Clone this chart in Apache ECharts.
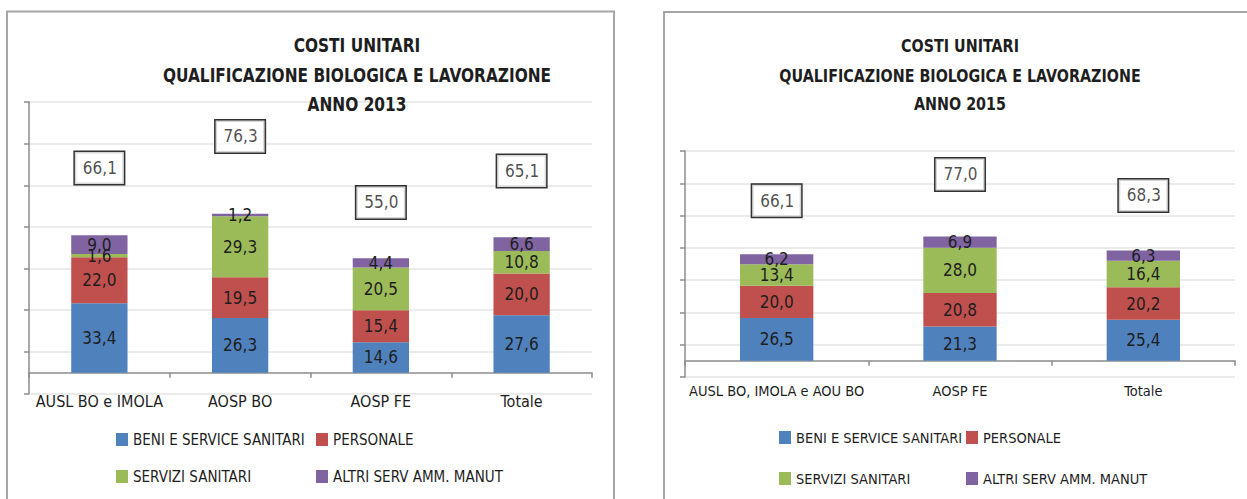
<!DOCTYPE html>
<html>
<head>
<meta charset="utf-8">
<script src="https://cdn.jsdelivr.net/npm/echarts@6/dist/echarts.min.js"></script>
<style>
html,body{margin:0;padding:0;background:#fff;}
#c{width:1247px;height:499px;}
</style>
</head>
<body>
<div id="c"></div>
<script>
// ---- DATA ----
var seriesNames = ['BENI E SERVICE SANITARI', 'PERSONALE', 'SERVIZI SANITARI', 'ALTRI SERV AMM. MANUT'];
var titleLines2013 = ['COSTI UNITARI', 'QUALIFICAZIONE BIOLOGICA E LAVORAZIONE', 'ANNO 2013'];
var titleLines2015 = ['COSTI UNITARI', 'QUALIFICAZIONE BIOLOGICA E LAVORAZIONE', 'ANNO 2015'];

var categories2013 = ['AUSL BO e IMOLA', 'AOSP BO', 'AOSP FE', 'Totale'];
var beni2013 = [33.4, 26.3, 14.6, 27.6];
var personale2013 = [22.0, 19.5, 15.4, 20.0];
var servizi2013 = [1.6, 29.3, 20.5, 10.8];
var altri2013 = [9.0, 1.2, 4.4, 6.6];
var totali2013 = [66.1, 76.3, 55.0, 65.1];

var categories2015 = ['AUSL BO, IMOLA e AOU BO', 'AOSP FE', 'Totale'];
var beni2015 = [26.5, 21.3, 25.4];
var personale2015 = [20.0, 20.8, 20.2];
var servizi2015 = [13.4, 28.0, 16.4];
var altri2015 = [6.2, 6.9, 6.3];
var totali2015 = [66.1, 77.0, 68.3];

// ---- STYLE ----
var FONT = '"Liberation Sans Narrow", "DejaVu Sans Condensed", "Liberation Sans", sans-serif';
var colors = ['#4F81BD', '#C0504D', '#9BBB59', '#8064A2'];
var textColor = '#1E1E1E';
var fmt = function (v) { return Number(v).toFixed(1).replace('.', ','); };

var chart = echarts.init(document.getElementById('c'), null, {renderer: 'svg'});

function valueAxis(gridIndex, min, max, interval, show) {
  return {
    type: 'value', gridIndex: gridIndex, min: min, max: max, interval: interval,
    show: show,
    axisLine: {show: true, lineStyle: {color: '#8C8C8C', width: 1.5}},
    axisTick: {show: true, length: 5, lineStyle: {color: '#8C8C8C', width: 1.5}},
    axisLabel: {show: false},
    splitLine: {show: show, lineStyle: {color: '#EBEBEB', width: 2}}
  };
}
function catAxis(gridIndex, cats, fontSize, onZeroIdx, margin) {
  return {
    type: 'category', gridIndex: gridIndex, data: cats,
    axisLine: {onZero: true, onZeroAxisIndex: onZeroIdx, lineStyle: {color: '#8C8C8C', width: 1.5}},
    axisTick: {show: true, length: 5, interval: 0, lineStyle: {color: '#8C8C8C', width: 1.5}},
    axisLabel: {margin: margin, fontSize: fontSize, color: textColor, fontFamily: FONT, interval: 0},
    splitLine: {show: false}
  };
}
function barSeries(name, idx, xi, yi, data, fs) {
  return {
    type: 'bar', name: name, stack: 'tot' + xi, xAxisIndex: xi, yAxisIndex: yi,
    barWidth: '40%', data: data,
    itemStyle: {color: colors[idx]},
    label: {show: true, position: 'inside', color: textColor, fontSize: fs, fontFamily: FONT,
      formatter: function (p) { return fmt(p.value); }}
  };
}
function boxSeries(xi, yi, data, fs) {
  return {
    type: 'scatter', xAxisIndex: xi, yAxisIndex: yi, data: data, symbol: 'rect', symbolSize: 1,
    itemStyle: {color: 'rgba(0,0,0,0)'}, z: 5,
    label: {show: true, position: 'inside', color: textColor, fontSize: fs, fontFamily: FONT,
      backgroundColor: '#fff', borderColor: '#000', borderWidth: 1.5, padding: [8, 7, 7, 8],
      formatter: function (p) { return fmt(p.value); }}
  };
}
function legendItem(name, left, top, fontSize) {
  return {data: [name], left: left, top: top, itemWidth: 12, itemHeight: 13, selectedMode: false,
    icon: 'rect', textStyle: {fontSize: fontSize, color: textColor, fontFamily: FONT}, padding: 0, itemGap: 0};
}
function titleText(lines, x, ys, fs, sx) {
  return lines.map(function (t, i) {
    return {type: 'text', x: x, y: ys[i], scaleX: sx, silent: true, z: 100,
      style: {text: t, x: 0, y: 0, textAlign: 'center', textVerticalAlign: 'middle', fill: textColor,
        font: 'bold ' + fs + 'px ' + FONT}};
  });
}

var ratio2013 = 1.487, ratio2015 = 1.5;

var option = {
  animation: false,
  grid: [
    {left: 29, right: 1247 - 592, top: 102, bottom: 499 - 393.5},
    {left: 685, right: 1247 - 1235, top: 151, bottom: 499 - 377}
  ],
  xAxis: [catAxis(0, categories2013, 16, 0, 0), catAxis(1, categories2015, 14.5, 2, 6)],
  yAxis: [
    valueAxis(0, -10, 130, 20, true),
    valueAxis(0, -10 / ratio2013, 130 / ratio2013, null, false),
    valueAxis(1, -10, 130, 20, true),
    valueAxis(1, -10 / ratio2015, 130 / ratio2015, null, false)
  ],
  legend: [
    legendItem(seriesNames[0], 116, 432, 15), legendItem(seriesNames[1], 316, 432, 15),
    legendItem(seriesNames[2], 116, 469, 15), legendItem(seriesNames[3], 316, 469, 15),
    legendItem(seriesNames[0], 779, 430, 14.5), legendItem(seriesNames[1], 966, 430, 14.5),
    legendItem(seriesNames[2], 779, 471, 14.5), legendItem(seriesNames[3], 966, 471, 14.5)
  ],
  graphic: [
    {type: 'rect', shape: {x: 7, y: 11.5, width: 607, height: 600}, style: {fill: 'none', stroke: '#A6A6A6', lineWidth: 2}, silent: true},
    {type: 'rect', shape: {x: 664, y: 12, width: 700, height: 600}, style: {fill: 'none', stroke: '#A6A6A6', lineWidth: 2}, silent: true}
  ].concat(titleText(titleLines2013, 357, [45, 75, 104], 20, 0.855)).concat(titleText(titleLines2015, 960, [46, 76, 104], 18.5, 0.86)),
  series: [
    barSeries(seriesNames[0], 0, 0, 0, beni2013, 17),
    barSeries(seriesNames[1], 1, 0, 0, personale2013, 17),
    barSeries(seriesNames[2], 2, 0, 0, servizi2013, 17),
    barSeries(seriesNames[3], 3, 0, 0, altri2013, 17),
    boxSeries(0, 1, totali2013, 17),
    barSeries(seriesNames[0], 0, 1, 2, beni2015, 17),
    barSeries(seriesNames[1], 1, 1, 2, personale2015, 17),
    barSeries(seriesNames[2], 2, 1, 2, servizi2015, 17),
    barSeries(seriesNames[3], 3, 1, 2, altri2015, 17),
    boxSeries(1, 3, totali2015, 17)
  ]
};
chart.setOption(option);
</script>
</body>
</html>
